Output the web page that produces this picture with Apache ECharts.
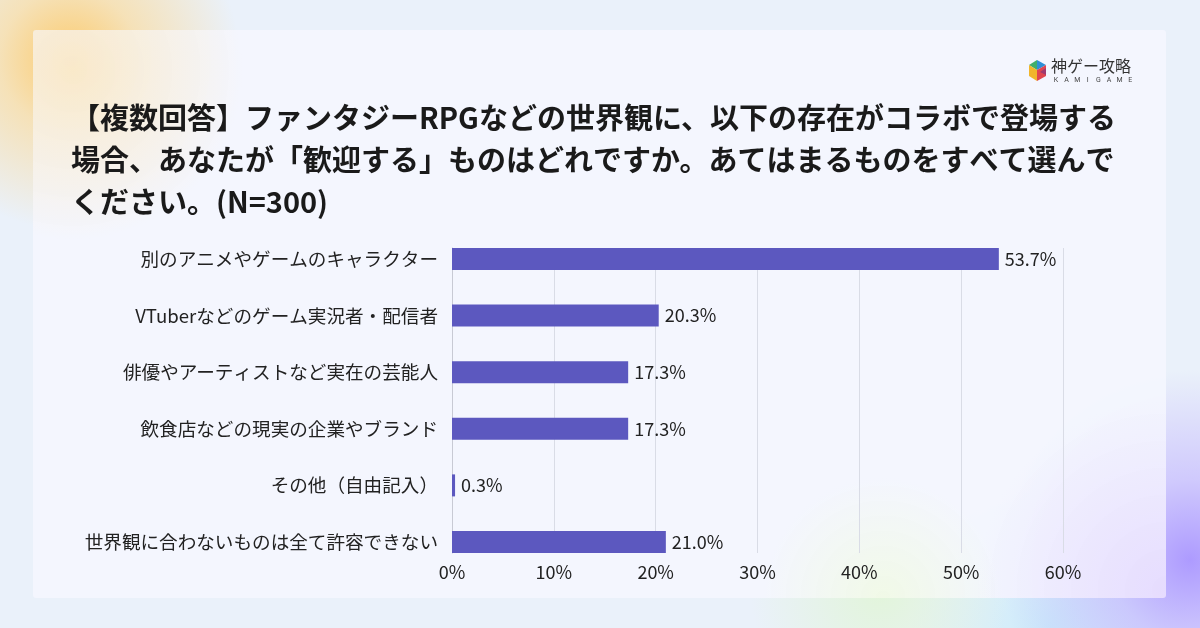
<!DOCTYPE html>
<html>
<head>
<meta charset="utf-8">
<script src="https://cdn.jsdelivr.net/npm/echarts@6/dist/echarts.min.js"></script>
<style>
  html, body { margin: 0; padding: 0; }
  body {
    width: 1200px; height: 628px; overflow: hidden; position: relative;
    background:
      radial-gradient(circle at 70px 60px, rgba(253,200,100,0.95) 0, rgba(253,215,140,0.6) 70px, rgba(253,230,190,0) 170px),
      radial-gradient(circle at 1190px 560px, rgba(170,150,255,0.95) 0, rgba(190,175,255,0.6) 80px, rgba(210,200,255,0) 190px),
      radial-gradient(circle at 880px 590px, rgba(225,245,215,0.9) 0, rgba(225,245,215,0) 130px),
      radial-gradient(circle at 1050px 628px, rgba(200,235,250,0.9) 0, rgba(200,235,250,0) 140px),
      #eaf1fa;
  }
  #card {
    position: absolute; left: 33px; top: 30px; width: 1133px; height: 568px;
    background:
      radial-gradient(circle at 40px 40px, rgba(253,225,170,0.6) 0, rgba(253,235,200,0) 170px),
      radial-gradient(circle at 1133px 560px, rgba(225,210,255,0.7) 0, rgba(225,210,255,0) 190px),
      radial-gradient(circle at 850px 568px, rgba(240,250,225,0.8) 0, rgba(240,250,225,0) 120px),
      rgba(244,246,254,0.96);
    border-radius: 3px;
  }
  #chart { position: absolute; left: 0; top: 0; width: 1200px; height: 628px; }
</style>
</head>
<body>
<div id="card"></div>
<div id="chart"></div>
<script>
// 選択肢
let categories = [
    '別のアニメやゲームのキャラクター',
    'VTuberなどのゲーム実況者・配信者',
    '俳優やアーティストなど実在の芸能人',
    '飲食店などの現実の企業やブランド',
    'その他（自由記入）',
    '世界観に合わないものは全て許容できない'
];
// 割合(%)
let values = [53.7, 20.3, 17.3, 17.3, 0.3, 21.0];
// x軸目盛
let xTicks = [0, 10, 20, 30, 40, 50, 60];

let titleText = '【複数回答】ファンタジーRPGなどの世界観に、以下の存在がコラボで登場する\n場合、あなたが「歓迎する」ものはどれですか。あてはまるものをすべて選んで\nください。(N=300)';

let fontJP = '"Noto Sans CJK JP", "Noto Sans", sans-serif';

// ロゴ下の英字
let logoLetters = 'KAMIGAME'.split('').map(function (ch, i) {
    return {
        type: 'text', x: 1056 + i * 10.6, y: 80,
        style: { text: ch, fontSize: 7, fill: '#444', align: 'center', verticalAlign: 'middle', fontFamily: 'Roboto, sans-serif' }
    };
});

let myChart = echarts.init(document.getElementById('chart'));

let option = {
    backgroundColor: 'transparent',
    animation: false,
    textStyle: { fontFamily: fontJP },
    title: {
        text: titleText,
        left: 66,
        top: 92,
        textStyle: {
            fontSize: 29,
            fontWeight: 'bold',
            color: '#1a1a1a',
            lineHeight: 42,
            fontFamily: fontJP
        }
    },
    graphic: [
        // ロゴ
        { type: 'polygon', shape: { points: [[1029, 65], [1037, 60], [1037, 70]] }, style: { fill: '#3fae6b' } },
        { type: 'polygon', shape: { points: [[1037, 60], [1046, 65], [1037, 70]] }, style: { fill: '#2e8fd6' } },
        { type: 'polygon', shape: { points: [[1029, 65], [1037, 70], [1037, 81], [1029, 76]] }, style: { fill: '#f1b62c' } },
        { type: 'polygon', shape: { points: [[1037, 70], [1046, 65], [1046, 76], [1037, 81]] }, style: { fill: '#e0464f' } },
        { type: 'polygon', shape: { points: [[1040, 72], [1046, 68], [1046, 75]] }, style: { fill: '#a0396f' } },
        {
            type: 'text', left: 1051, top: 58,
            style: { text: '神ゲー攻略', fontSize: 16, fill: '#333', fontFamily: fontJP }
        }
    ].concat(logoLetters),
    grid: [
        { left: 452, right: 137, top: 248, bottom: 75 },
        { left: 452, right: 137, top: 259, bottom: 86 }
    ],
    xAxis: [
        {
            gridIndex: 0,
            type: 'value',
            min: xTicks[0],
            max: xTicks[xTicks.length - 1],
            interval: 10,
            axisLine: { show: false },
            axisTick: { show: false },
            splitLine: { lineStyle: { color: '#d9dce6', width: 1 } },
            axisLabel: {
                formatter: '{value}%',
                fontSize: 18,
                color: '#222',
                margin: 10,
                fontFamily: fontJP
            }
        },
        {
            gridIndex: 1,
            type: 'value',
            min: xTicks[0],
            max: xTicks[xTicks.length - 1],
            show: false
        }
    ],
    yAxis: [
        {
            gridIndex: 0,
            type: 'value',
            min: 0,
            max: 1,
            axisLine: { show: true, lineStyle: { color: '#c8cad4' } },
            axisTick: { show: false },
            axisLabel: { show: false },
            splitLine: { show: false }
        },
        {
            gridIndex: 1,
            type: 'category',
            inverse: true,
            boundaryGap: false,
            data: categories,
            axisLine: { show: false },
            axisTick: { show: false },
            splitLine: { show: false },
            axisLabel: {
                fontSize: 18.6,
                color: '#222',
                margin: 14,
                fontFamily: fontJP
            }
        }
    ],
    series: [{
        type: 'bar',
        xAxisIndex: 1,
        yAxisIndex: 1,
        data: values,
        barWidth: 22,
        itemStyle: { color: '#5c58bf' },
        label: {
            show: true,
            position: 'right',
            distance: 6,
            fontSize: 18,
            color: '#222',
            fontFamily: fontJP,
            formatter: function (p) {
                return p.value.toFixed(1) + '%';
            }
        }
    }]
};

myChart.setOption(option);
</script>
</body>
</html>
